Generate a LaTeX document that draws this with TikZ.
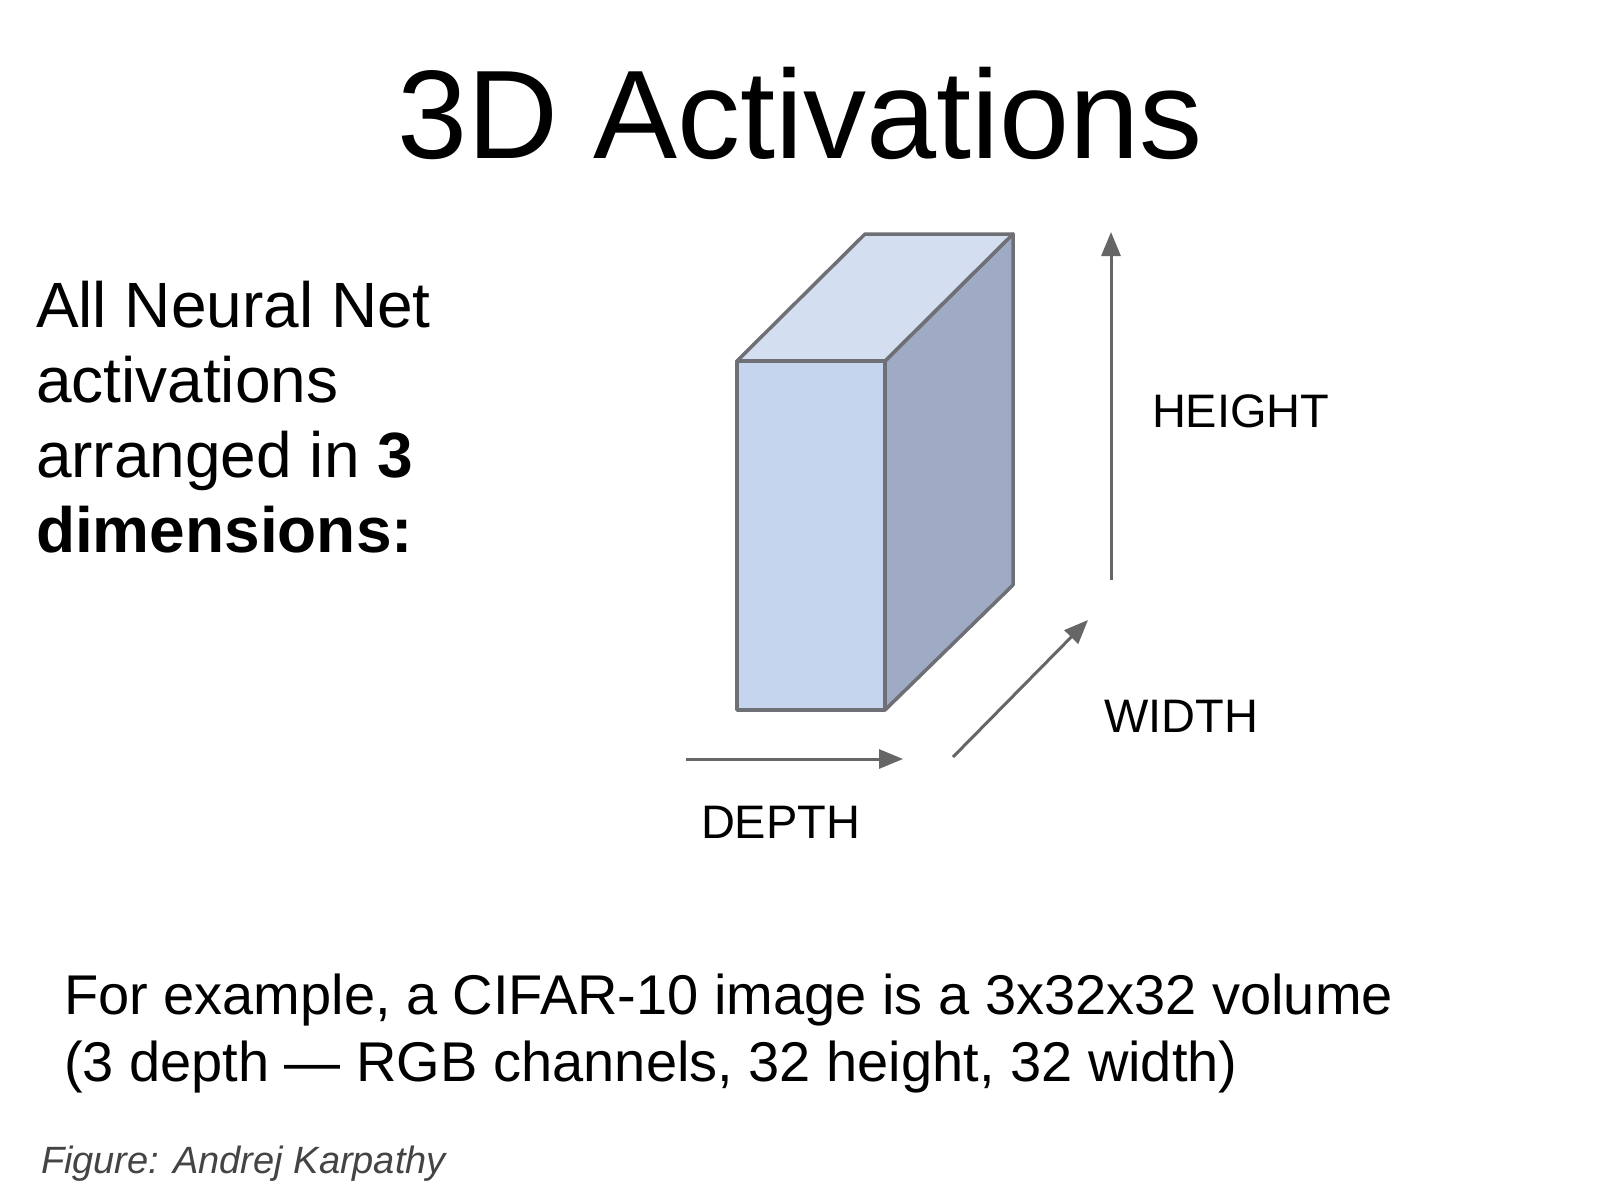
\documentclass[tikz,border=0pt]{standalone}
\usepackage{fontspec}
\setmainfont{Liberation Sans}
\usetikzlibrary{arrows.meta}
\definecolor{edgegray}{HTML}{6E7075}
\definecolor{arrowgray}{HTML}{666666}
\definecolor{frontfill}{HTML}{C5D5EE}
\definecolor{topfill}{HTML}{D3DFF1}
\definecolor{sidefill}{HTML}{9FAAC4}
\definecolor{capgray}{HTML}{444444}
\tikzset{
  face/.style={draw=edgegray, line width=3.5pt, line join=round},
  axisarrow/.style={draw=arrowgray, line width=3pt, -{Triangle[length=24pt,width=19pt]}},
  txt/.style={anchor=base west, inner sep=0pt, outer sep=0pt},
  lefttxt/.style={txt, font=\fontsize{64}{75}\selectfont},
  bottxt/.style={txt, font=\fontsize{56}{66}\selectfont},
  labeltxt/.style={txt, font=\fontsize{47}{56}\selectfont}
}
\begin{document}
\begin{tikzpicture}[x=1pt,y=-1pt]
\useasboundingbox (0,0) rectangle (1600,1200);
\fill[white] (0,0) rectangle (1600,1200);

% title
\node[anchor=base, inner sep=0pt, font=\fontsize{126}{130}\selectfont] (title) at (800,158) {3D Activations};

% left text
\node[lefttxt] (l1) at (36,327) {All Neural Net};
\node[lefttxt] (l2) at (36,402) {activations};
\node[lefttxt] (l3) at (36,477) {arranged in \textbf{3}};
\node[lefttxt] (l4) at (36,552) {\textbf{dimensions:}};

% box corners
\coordinate (ftl) at (737,361);
\coordinate (ftr) at (885,361);
\coordinate (fbr) at (885,710);
\coordinate (fbl) at (737,710);
\coordinate (btl) at (865,234);
\coordinate (btr) at (1013,234);
\coordinate (bbr) at (1013,585);

\filldraw[face, fill=sidefill] (ftr) -- (btr) -- (bbr) -- (fbr) -- cycle;
\filldraw[face, fill=topfill] (ftl) -- (btl) -- (btr) -- (ftr) -- cycle;
\filldraw[face, fill=frontfill] (ftl) -- (ftr) -- (fbr) -- (fbl) -- cycle;

% axes
\coordinate (hs) at (1111,580);
\coordinate (he) at (1111,232);
\coordinate (ws) at (953,757);
\coordinate (we) at (1088,620);
\coordinate (ds) at (686,759);
\coordinate (de) at (903,759);
\draw[axisarrow] (hs) -- (he);
\draw[axisarrow] (ws) -- (we);
\draw[axisarrow] (ds) -- (de);

\node[labeltxt] (height) at (1152,427) {HEIGHT};
\node[labeltxt] (width) at (1104,732) {WIDTH};
\node[labeltxt] (depth) at (701,838) {DEPTH};

% bottom text
\node[bottxt] (b1) at (64,1014) {For example, a CIFAR-10 image is a 3x32x32 volume};
\node[bottxt] (b2) at (64,1081) {(3 depth — RGB channels, 32 height, 32 width)};

\node[txt, text=capgray, font=\fontsize{38}{44}\selectfont\itshape] (cap) at (41,1173) {Figure: Andrej Karpathy};
\end{tikzpicture}
\end{document}
